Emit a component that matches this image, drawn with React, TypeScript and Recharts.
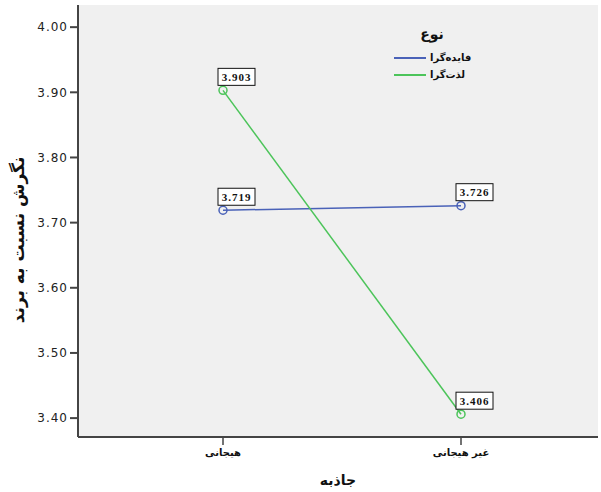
import { LineChart, Line, XAxis, YAxis } from 'recharts';

const categories = ['هیجانی', 'غیر هیجانی'];
const faydeGara = [3.719, 3.726];
const lezatGara = [3.903, 3.406];
const yTicks = [3.4, 3.5, 3.6, 3.7, 3.8, 3.9, 4.0];

const data = categories.map((name, i) => ({ name, fayde: faydeGara[i], lezat: lezatGara[i] }));

const BLUE = '#4a62b8';
const GREEN = '#4cc45a';
const AXIS = '#444';

const renderValueLabel = (props: any) => {
	const { x, y, value } = props;
	return (
		<g>
			<rect x={x - 5} y={y - 22} width={37} height={17} fill='#fff' stroke='#111' strokeWidth={1} />
			<text
				x={x + 13.5}
				y={y - 9.5}
				textAnchor='middle'
				fontFamily='Liberation Serif'
				fontWeight='bold'
				fontSize={11}
				letterSpacing={1}
				fill='#111'
			>
				{Number(value).toFixed(3)}
			</text>
		</g>
	);
};

const legendItems = [
	{ label: 'فایده‌گرا', color: BLUE },
	{ label: 'لذت‌گرا', color: GREEN },
];

const renderYLabel = () => (
	<text
		x={18}
		y={240}
		transform='rotate(-90 18 240)'
		textAnchor='middle'
		dominantBaseline='central'
		fontFamily='DejaVu Sans'
		fontWeight='bold'
		fontSize={17}
		fill='#111'
	>
		نگرش نسبت به برند
	</text>
);

export default function App() {
	return (
		<div style={{ position: 'absolute', left: 0, top: 0, width: 601, height: 492, background: '#fff' }}>
			<LineChart width={601} height={492} data={data} margin={{ top: 5, right: 3, left: 0, bottom: 0 }}>
				<rect x={78} y={5} width={520} height={432} fill='#f0f0f0' />
				<XAxis
					dataKey='name'
					scale='point'
					padding={{ left: 145, right: 137 }}
					height={55}
					axisLine={{ stroke: AXIS, strokeWidth: 2 }}
					tickLine={{ stroke: AXIS, strokeWidth: 1.5 }}
					tickSize={8}
					tick={{ fontFamily: 'DejaVu Sans', fontWeight: 'bold', fontSize: 10, fill: '#111' }}
					tickMargin={4}
					label={{ value: 'جاذبه', position: 'insideBottom', offset: 7, fontFamily: 'DejaVu Sans', fontWeight: 'bold', fontSize: 14, fill: '#111' }}
				/>
				<XAxis
					xAxisId='top'
					dataKey='name'
					orientation='top'
					height={0}
					tick={false}
					tickLine={false}
					axisLine={{ stroke: AXIS, strokeWidth: 2 }}
				/>
				<YAxis
					domain={[3.371, 4.034]}
					ticks={yTicks}
					width={78}
					allowDataOverflow
					tickFormatter={(v: number) => v.toFixed(2)}
					axisLine={{ stroke: AXIS, strokeWidth: 2 }}
					tickLine={{ stroke: AXIS, strokeWidth: 2 }}
					tickSize={8}
					tick={{ fontFamily: 'DejaVu Sans', fontSize: 12, fill: '#222', letterSpacing: 1 }}
					label={renderYLabel}
				/>
				<YAxis
					yAxisId='right'
					orientation='right'
					width={0}
					tick={false}
					tickLine={false}
					axisLine={{ stroke: AXIS, strokeWidth: 2 }}
				/>
				<Line
					dataKey='fayde'
					stroke={BLUE}
					strokeWidth={1.5}
					dot={{ r: 4, fill: 'none', stroke: BLUE, strokeWidth: 1.5 }}
					activeDot={false}
					isAnimationActive={false}
					label={renderValueLabel}
				/>
				<Line
					dataKey='lezat'
					stroke={GREEN}
					strokeWidth={1.5}
					dot={{ r: 4, fill: 'none', stroke: GREEN, strokeWidth: 1.5 }}
					activeDot={false}
					isAnimationActive={false}
					label={renderValueLabel}
				/>
			</LineChart>
			<div style={{ position: 'absolute', left: 394, top: 22, width: 90, fontFamily: 'DejaVu Sans', color: '#111' }}>
				<div style={{ fontWeight: 'bold', fontSize: 14, width: 76, textAlign: 'center', height: 24, lineHeight: '24px', marginBottom: 3 }}>نوع</div>
				{legendItems.map((it) => (
					<div key={it.label} style={{ display: 'flex', alignItems: 'center', height: 17, fontSize: 10, fontWeight: 'bold' }}>
						<span style={{ display: 'inline-block', width: 32, height: 0, borderTop: `2px solid ${it.color}`, marginRight: 4 }} />
						<span style={{ direction: 'rtl' }}>{it.label}</span>
					</div>
				))}
			</div>
		</div>
	);
}
